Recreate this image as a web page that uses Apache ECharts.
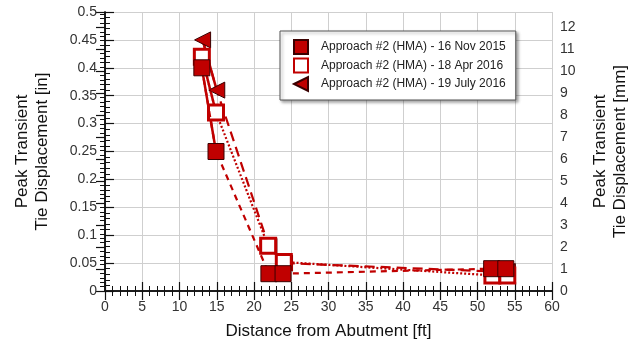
<!DOCTYPE html>
<html>
<head>
<meta charset="utf-8">
<script src="https://cdn.jsdelivr.net/npm/echarts@6/dist/echarts.min.js"></script>
<style>html,body{margin:0;padding:0;background:#fff}#c{width:644px;height:348px}</style>
</head>
<body>
<div id="c"></div>
<script>
// Data
const seriesNames = [
  'Approach #2 (HMA) - 16 Nov 2015',
  'Approach #2 (HMA) - 18 Apr 2016',
  'Approach #2 (HMA) - 19 July 2016'
];
const distNov = [13.0, 14.9, 22.0, 23.9, 51.9, 53.8];
const dispNov = [0.40, 0.25, 0.031, 0.031, 0.04, 0.04];
const distApr = [13.0, 14.9, 21.9, 24.0, 52.0, 54.0];
const dispApr = [0.42, 0.32, 0.081, 0.052, 0.028, 0.028];
const distJul = [13.1, 15.0, 22.0, 24.1, 52.0, 54.0];
const dispJul = [0.45, 0.36, 0.08, 0.05, 0.035, 0.035];
const pairs = [[0, 1], [2, 3], [4, 5]];
const xMin = 0, xMax = 60, xStep = 5;
const yMin = 0, yMax = 0.5, yStep = 0.05;
const mmPerIn = 25.4;

const RED = '#c00000';
const FONT = 'Liberation Sans, Arial, sans-serif';
const zip = (xs, ys) => xs.map((x, i) => [x, ys[i]]);

const styles = [
  { name: seriesNames[0], xs: distNov, ys: dispNov, symbol: 'rect', rotate: 0, size: 16,
    item: { color: RED, borderColor: '#3a0000', borderWidth: 1 }, dash: [6, 5], z: 6 },
  { name: seriesNames[1], xs: distApr, ys: dispApr, symbol: 'rect', rotate: 0, size: 15,
    item: { color: '#ffffff', borderColor: RED, borderWidth: 3 }, dash: [2, 2], z: 5 },
  { name: seriesNames[2], xs: distJul, ys: dispJul, symbol: 'triangle', rotate: 90, size: 16,
    item: { color: RED, borderColor: '#3a0000', borderWidth: 1 }, dash: [10, 6], z: 4 }
];

const series = [];
styles.forEach(s => {
  // solid lines within each gauge pair
  pairs.forEach(p => {
    series.push({
      type: 'line', xAxisIndex: 0, yAxisIndex: 0, z: 2,
      data: p.map(i => [s.xs[i], s.ys[i]]),
      symbol: 'none', silent: true,
      lineStyle: { color: RED, width: 2.5, type: 'solid' }
    });
  });
  // dashed connection + markers
  series.push({
    name: s.name, type: 'line', xAxisIndex: 0, yAxisIndex: 0, z: s.z,
    data: zip(s.xs, s.ys),
    symbol: s.symbol, symbolSize: s.size, symbolRotate: s.rotate,
    itemStyle: s.item,
    lineStyle: { color: RED, width: 2.2, type: s.dash }
  });
});

const legendIcons = [
  'rect',
  'rect',
  'path://M0,5L10,0L10,10Z'
];

const tickLabel = { fontFamily: FONT, fontSize: 14, color: '#333' };
const nameText = { fontFamily: FONT, fontSize: 17, color: '#111' };

const option = {
  animation: false,
  backgroundColor: '#fff',
  grid: { left: 105, right: 92, top: 12, bottom: 57 },
  legend: {
    orient: 'vertical', left: 280, top: 31,
    padding: [8, 10, 8, 13], itemGap: 2.5, itemWidth: 14, itemHeight: 14,
    backgroundColor: '#fff', borderColor: '#555', borderWidth: 1,
    shadowColor: 'rgba(0,0,0,0.35)', shadowBlur: 3, shadowOffsetX: 2, shadowOffsetY: 2,
    textStyle: { fontFamily: FONT, fontSize: 12, color: '#222', padding: [0, 0, 0, 8] },
    data: seriesNames.map((n, i) => ({ name: n, icon: legendIcons[i] }))
  },
  xAxis: [
    {
      type: 'value', min: xMin, max: xMax, interval: xStep, position: 'bottom',
      name: 'Distance from Abutment [ft]', nameLocation: 'middle', nameGap: 32,
      nameTextStyle: nameText,
      axisLine: { lineStyle: { color: '#111', width: 1.5 } },
      axisTick: { inside: true, length: 9, lineStyle: { color: '#111', width: 1.2 } },
      minorTick: { show: true, splitNumber: 5, length: 5, lineStyle: { color: '#111', width: 1 } },
      axisLabel: Object.assign({ margin: 9 }, tickLabel),
      splitLine: { show: true, lineStyle: { color: '#cfcfcf', width: 1 } }
    },
    {
      type: 'value', min: xMin, max: xMax, interval: xStep, position: 'top',
      axisLine: { show: true, lineStyle: { color: '#111', width: 1.5 } },
      axisTick: { inside: true, length: 9, lineStyle: { color: '#111', width: 1.2 } },
      minorTick: { show: true, splitNumber: 5, length: 5, lineStyle: { color: '#111', width: 1 } },
      axisLabel: { show: false },
      splitLine: { show: false }
    }
  ],
  yAxis: [
    {
      type: 'value', min: yMin, max: yMax, interval: yStep, position: 'left',
      name: 'Peak Transient\nTie Displacement [in]', nameLocation: 'middle', nameGap: 53,
      nameRotate: 90, nameTextStyle: Object.assign({ lineHeight: 20 }, nameText),
      axisLine: { lineStyle: { color: '#111', width: 1.5 } },
      axisTick: { inside: true, length: 9, lineStyle: { color: '#111', width: 1.2 } },
      minorTick: { show: true, splitNumber: 5, length: 5, lineStyle: { color: '#111', width: 1 } },
      axisLabel: Object.assign({ margin: 8 }, tickLabel),
      splitLine: { show: true, lineStyle: { color: '#cfcfcf', width: 1 } }
    },
    {
      type: 'value', min: yMin * mmPerIn, max: yMax * mmPerIn, interval: 1, position: 'right',
      name: 'Peak Transient\nTie Displacement [mm]', nameLocation: 'middle', nameGap: 38,
      nameRotate: 90, nameTextStyle: Object.assign({ lineHeight: 20 }, nameText),
      axisLine: { show: true, lineStyle: { color: '#111', width: 1.5 } },
      axisTick: { inside: true, length: 9, lineStyle: { color: '#111', width: 1.2 } },
      minorTick: { show: true, splitNumber: 5, length: 5, lineStyle: { color: '#111', width: 1 } },
      axisLabel: Object.assign({ margin: 8, showMaxLabel: false,
        formatter: v => (Math.abs(v - Math.round(v)) < 1e-6 ? String(Math.round(v)) : '') }, tickLabel),
      splitLine: { show: false }
    }
  ],
  series: series
};

echarts.init(document.getElementById('c'), null, { renderer: 'canvas' }).setOption(option);
</script>
</body>
</html>
